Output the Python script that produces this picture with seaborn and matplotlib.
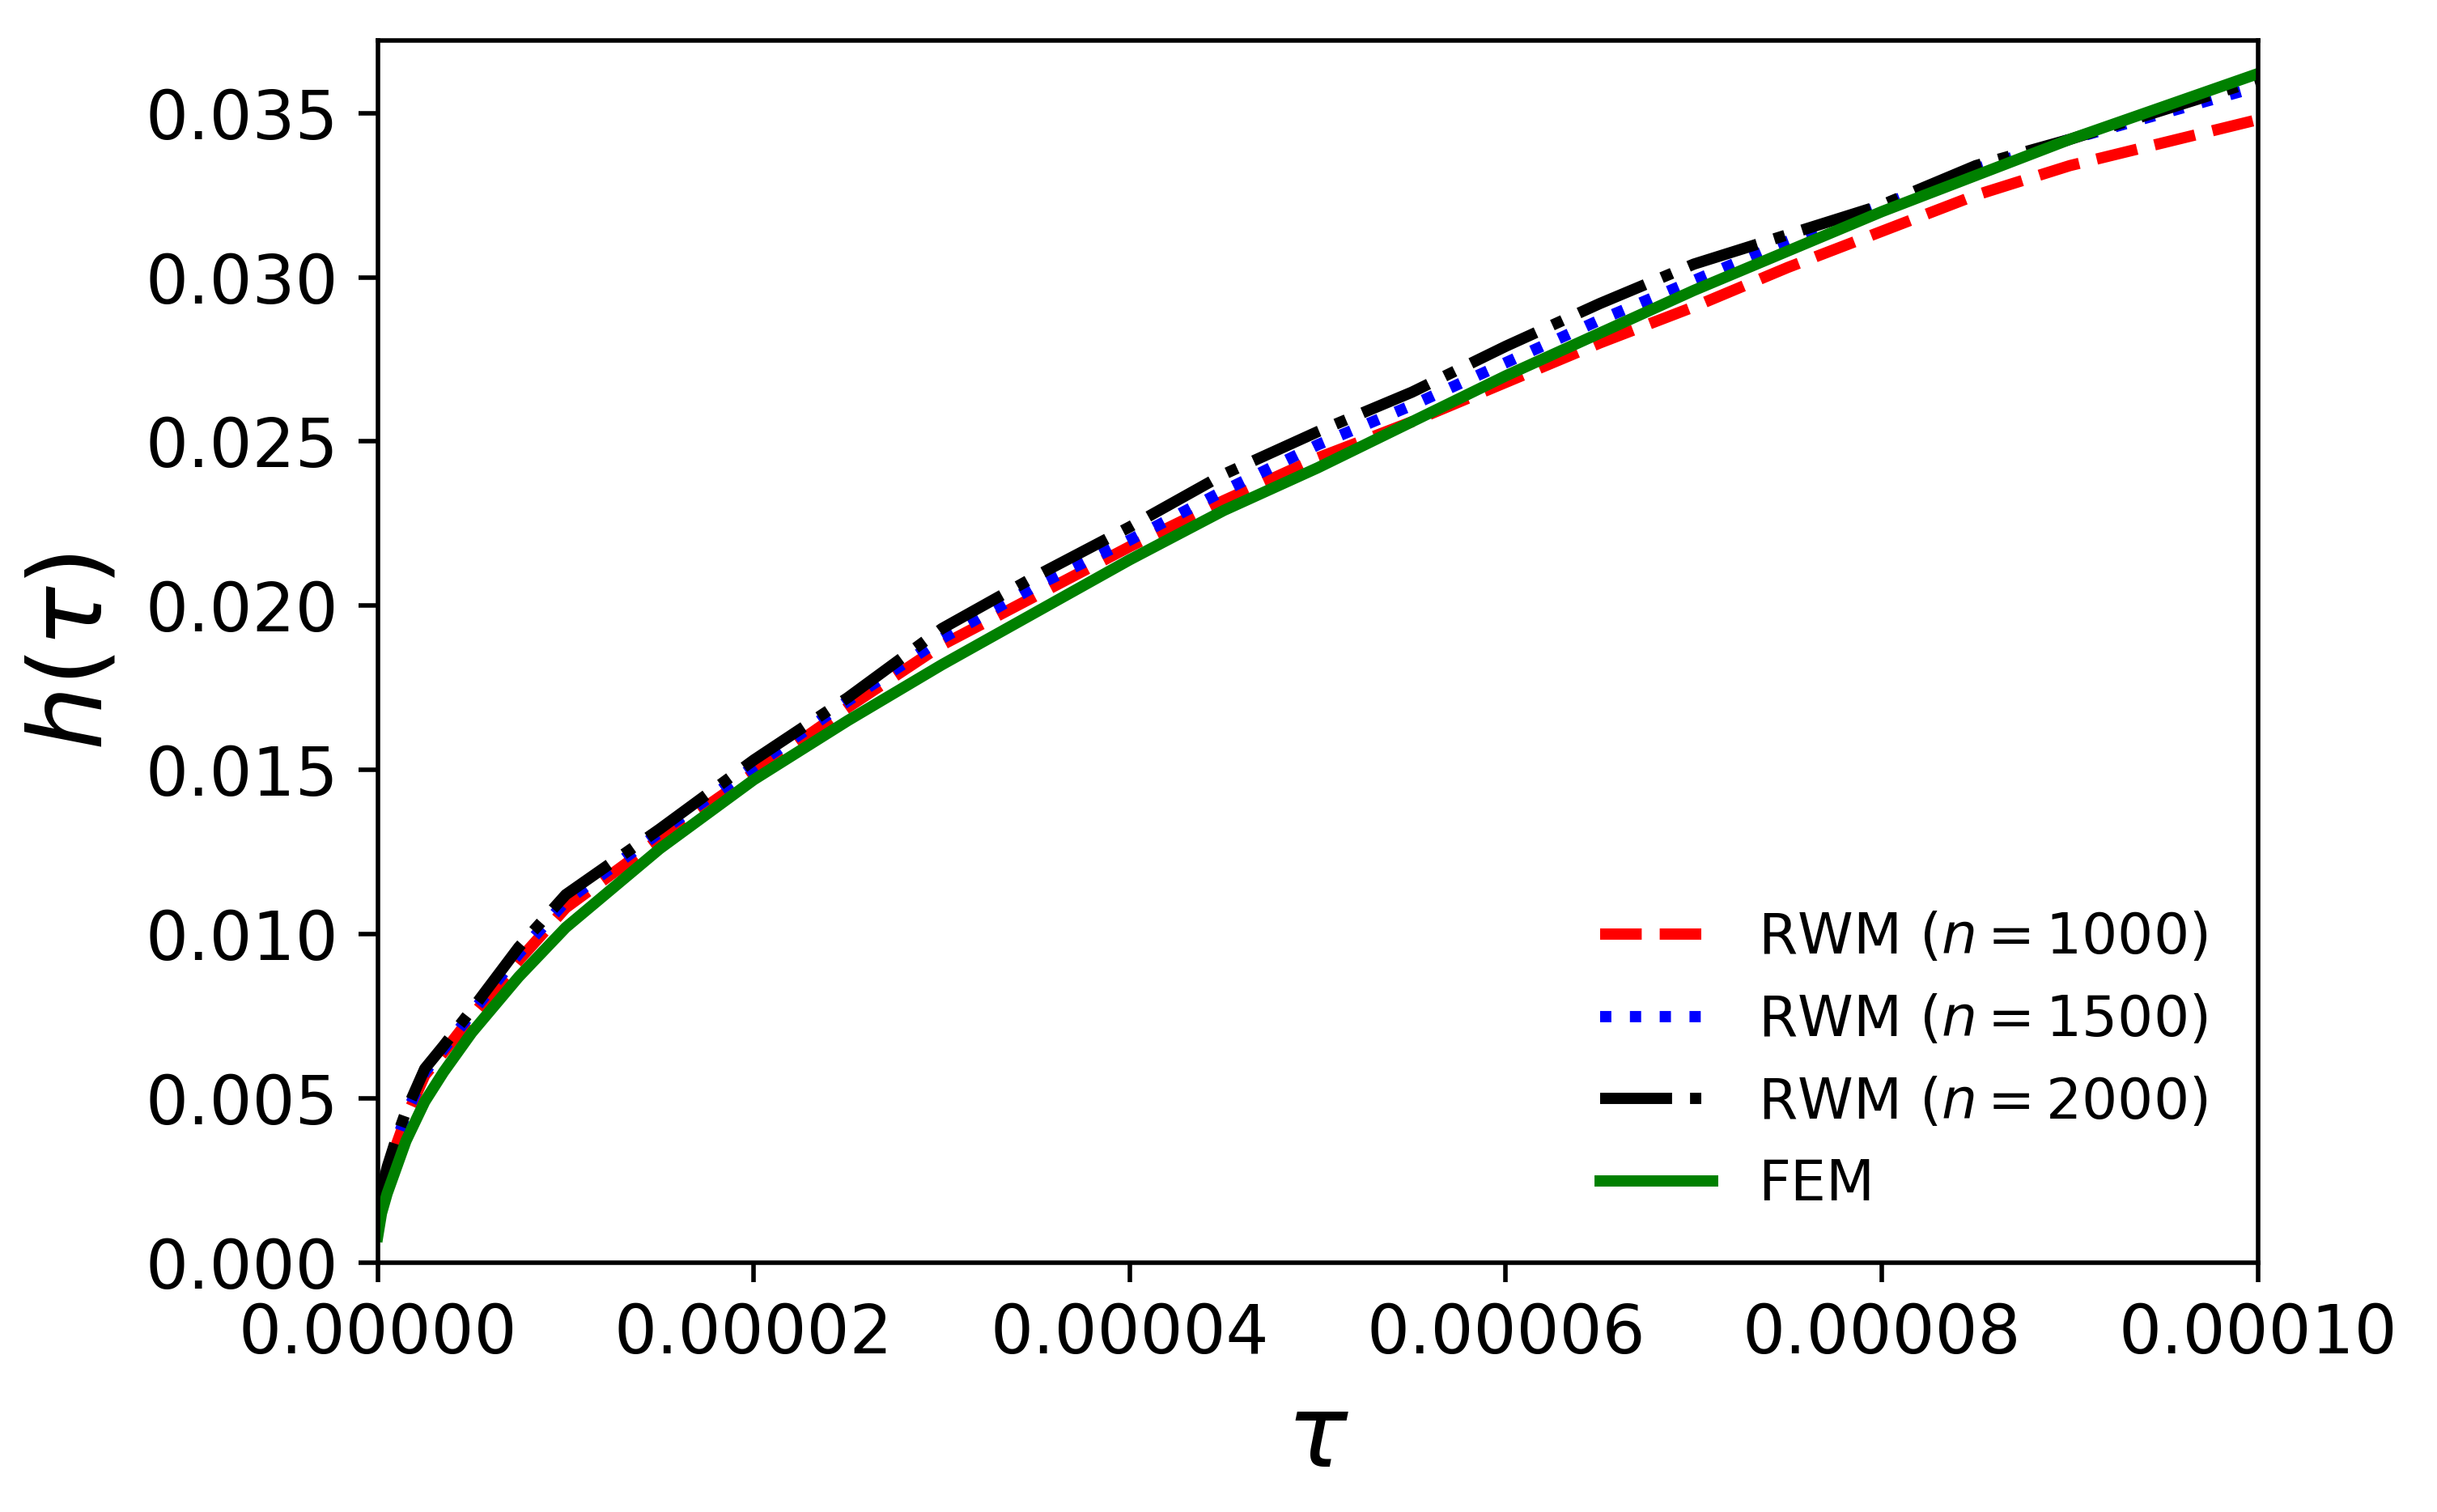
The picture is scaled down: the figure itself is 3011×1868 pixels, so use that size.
import numpy as np
import pandas as pd
import matplotlib
matplotlib.use("Agg")
import matplotlib.pyplot as plt
import seaborn as sns
from matplotlib.ticker import FormatStrFormatter

# tau values (units of 1e-5)
tau = [0, 0.02, 0.05, 0.1, 0.15, 0.25, 0.35, 0.5, 0.75, 1, 1.5, 2, 2.5, 3, 3.5,
       4, 4.5, 5, 5.5, 6, 6.5, 7, 7.5, 8, 8.5, 9, 9.5, 10]

rwm_1000 = [0.0013, 0.0020, 0.0027, 0.0036, 0.0044, 0.0057, 0.0064, 0.0075, 0.0092,
            0.0108, 0.0129, 0.0149, 0.0169, 0.0188, 0.0203, 0.0218, 0.0232, 0.0245,
            0.0256, 0.0268, 0.0280, 0.0291, 0.0303, 0.0314, 0.0325, 0.0334, 0.0341,
            0.0348]
rwm_1500 = [0.0014, 0.0021, 0.0028, 0.0037, 0.0045, 0.0058, 0.0065, 0.0076, 0.0094,
            0.0110, 0.0131, 0.0151, 0.0171, 0.0190, 0.0206, 0.0220, 0.0235, 0.0249,
            0.0261, 0.0274, 0.0287, 0.0299, 0.0311, 0.0322, 0.0333, 0.0342, 0.0350,
            0.0358]
rwm_2000 = [0.0015, 0.0022, 0.0029, 0.0038, 0.0046, 0.0059, 0.0066, 0.0077, 0.0096,
            0.0112, 0.0132, 0.0153, 0.0172, 0.0193, 0.0209, 0.0224, 0.0240, 0.0253,
            0.0265, 0.0279, 0.0292, 0.0304, 0.0313, 0.0322, 0.0334, 0.0342, 0.0351,
            0.0360]
fem = [0.0008, 0.0015, 0.0021, 0.0029, 0.0037, 0.0049, 0.0058, 0.0070, 0.0087,
       0.0102, 0.0126, 0.0147, 0.0165, 0.0182, 0.0198, 0.0214, 0.0229, 0.0242,
       0.0256, 0.0270, 0.0283, 0.0296, 0.0308, 0.0320, 0.0331, 0.0342, 0.0352,
       0.0362]

labels = [r"RWM ($n=1000$)", r"RWM ($n=1500$)", r"RWM ($n=2000$)", "FEM"]
colors = ["red", "blue", "black", "green"]
styles = ["--", ":", "-.", "-"]

x = np.array(tau) * 1e-5

fig = plt.figure(figsize=(3011 / 500, 1868 / 500), dpi=500)
ax = fig.add_axes([0.155, 0.165, 0.7715, 0.808])

for y, lab, c, ls in zip([rwm_1000, rwm_1500, rwm_2000, fem], labels, colors, styles):
    df = pd.DataFrame({"tau": x, "h": y})
    sns.lineplot(data=df, x="tau", y="h", ax=ax, color=c, linestyle=ls,
                 linewidth=2, label=lab)

ax.set_xlim(0, 1e-4)
ax.set_ylim(0, 0.0372)
ax.xaxis.set_major_formatter(FormatStrFormatter("%.5f"))
ax.yaxis.set_major_formatter(FormatStrFormatter("%.3f"))
ax.tick_params(labelsize=12)
ax.set_xlabel(r"$\tau$", fontsize=18)
ax.set_ylabel(r"$h(\tau)$", fontsize=18)
ax.legend(loc="lower right", frameon=False, fontsize=10)

fig.savefig("out.png", dpi=500)
